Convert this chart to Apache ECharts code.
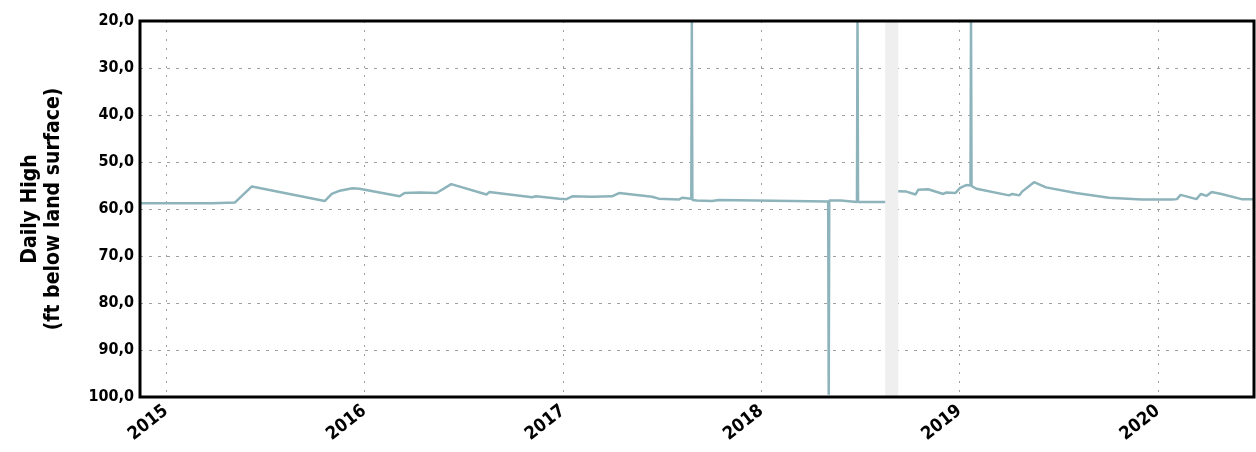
<!DOCTYPE html>
<html>
<head>
<meta charset="utf-8">
<script src="https://cdn.jsdelivr.net/npm/echarts@6/dist/echarts.min.js"></script>
<style>
html,body{margin:0;padding:0;background:#fff;}
#chart{width:1256px;height:452px;}
</style>
</head>
<body>
<div id="chart"></div>
<script>
// Observation dates and daily-high depth values (ft below land surface)
const obsDates = [
  '2014-11-14','2015-03-27','2015-03-28','2015-05-08','2015-06-08','2015-10-20',
  '2015-11-02','2015-11-17','2015-12-10','2015-12-23','2016-03-06','2016-03-15',
  '2016-04-12','2016-05-13','2016-06-09','2016-08-13','2016-08-18','2016-11-05',
  '2016-11-12','2016-12-25','2017-01-07','2017-01-18','2017-02-23','2017-04-01',
  '2017-04-14','2017-06-14','2017-06-26','2017-08-02','2017-08-08','2017-08-17',
  '2017-08-25','2017-08-26','2017-08-27','2017-09-04','2017-10-02','2017-10-15',
  '2018-05-04','2018-05-05','2018-05-06','2018-05-27','2018-05-29',
  '2018-06-26','2018-06-27','2018-06-28','2018-08-17','2018-08-30',
  '2018-09-10','2018-09-25','2018-10-12','2018-10-17','2018-11-04','2018-12-02',
  '2018-12-07','2018-12-24','2019-01-02','2019-01-13','2019-01-21','2019-01-22',
  '2019-01-23','2019-02-01','2019-04-02','2019-04-08','2019-04-21','2019-04-26',
  '2019-05-18','2019-06-09','2019-08-03','2019-10-03','2019-12-02','2020-01-27',
  '2020-02-05','2020-02-12','2020-03-12','2020-03-20','2020-03-31','2020-04-09',
  '2020-04-27','2020-06-03','2020-06-26'
];
const obsValues = [
  58.8, 58.8, 58.6, 58.6, 55.2, 58.3,
  56.8, 56.1, 55.6, 55.7, 57.3, 56.6,
  56.5, 56.6, 54.7, 56.9, 56.4, 57.5,
  57.3, 57.8, 57.9, 57.3, 57.4, 57.3,
  56.6, 57.4, 57.8, 58.0, 57.6, 57.7,
  57.8, 20.0, 58.1, 58.2, 58.3, 58.1,
  58.4, 99.5, 58.2, 58.2, 58.5,
  58.5, 20.0, 58.5, 58.5, null,
  56.2, 56.3, 56.9, 55.9, 55.8, 56.8,
  56.5, 56.6, 55.5, 54.9, 55.0, 20.0,
  55.1, 55.7, 57.1, 56.8, 57.1, 56.3,
  54.3, 55.4, 56.6, 57.6, 58.0, 58.0,
  57.9, 57.0, 57.9, 56.8, 57.2, 56.4,
  56.8, 57.9, 57.9
];
// Period with no data (shaded)
const gapStart = '2018-08-17';
const gapEnd = '2018-09-10';
// Axis extents and ticks
const xMin = '2014-11-14';
const xMax = '2020-06-26';
const yTicks = [20, 30, 40, 50, 60, 70, 80, 90, 100];
const yName = 'Daily High\n(ft below land surface)';

const seriesData = obsDates.map((d, i) => [d, obsValues[i] === null ? '-' : obsValues[i]]);
const labelFont = "'DejaVu Sans Condensed', 'DejaVu Sans', sans-serif";

const chart = echarts.init(document.getElementById('chart'), null, {renderer: 'canvas'});
chart.setOption({
  animation: false,
  backgroundColor: '#ffffff',
  grid: {
    left: 140, right: 2, top: 21, bottom: 55, z: 10,
    show: true, borderColor: '#000', borderWidth: 3, backgroundColor: 'transparent'
  },
  xAxis: {
    type: 'time',
    min: xMin,
    max: xMax,
    minInterval: 365 * 86400000,
    maxInterval: 366 * 86400000,
    axisLine: {show: false},
    axisTick: {show: false},
    splitLine: {show: true, lineStyle: {color: '#a0a0a0', width: 1, type: [2, 7]}},
    axisLabel: {
      rotate: 38,
      margin: 12,
      showMinLabel: false,
      showMaxLabel: false,
      color: '#000',
      fontFamily: labelFont,
      fontWeight: 'bold',
      fontSize: 18,
      formatter: function (v) { return String(new Date(v).getFullYear()); }
    }
  },
  yAxis: {
    type: 'value',
    inverse: true,
    min: yTicks[0],
    max: yTicks[yTicks.length - 1],
    interval: 10,
    name: yName,
    nameLocation: 'middle',
    nameGap: 75,
    nameTextStyle: {
      color: '#000', fontFamily: labelFont, fontWeight: 'bold', fontSize: 21, lineHeight: 23
    },
    axisLine: {show: false},
    axisTick: {show: false},
    splitLine: {show: true, lineStyle: {color: '#a0a0a0', width: 1, type: [3, 6]}},
    axisLabel: {
      color: '#000',
      fontFamily: labelFont,
      fontWeight: 'bold',
      fontSize: 16,
      margin: 6,
      formatter: function (v) { return v.toFixed(1).replace('.', ','); }
    }
  },
  series: [{
    type: 'line',
    data: seriesData,
    showSymbol: false,
    symbol: 'none',
    connectNulls: false,
    clip: true,
    lineStyle: {color: '#8db3bb', width: 2.5},
    markArea: {
      silent: true,
      itemStyle: {color: '#efefef'},
      data: [[{xAxis: gapStart}, {xAxis: gapEnd}]]
    },
    z: 3
  }]
});
</script>
</body>
</html>
